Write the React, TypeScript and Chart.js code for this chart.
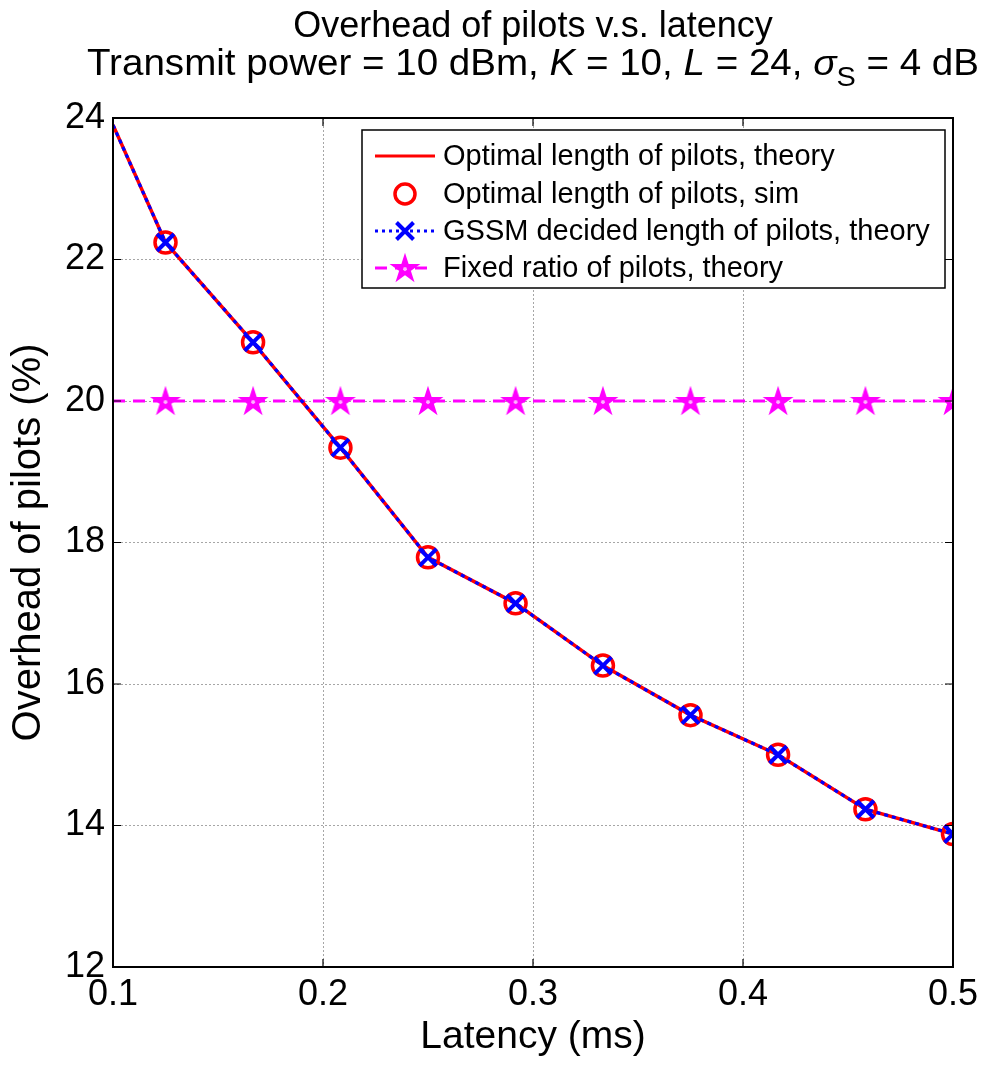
import React, { useEffect, useRef } from 'react';
import { Chart, registerables } from 'chart.js';

Chart.register(...registerables);

// ---------- data ----------
const latency = [0.1, 0.125, 0.1667, 0.2083, 0.25, 0.2917, 0.3333, 0.375, 0.4167, 0.4583, 0.5];
const optimalTheory = [23.9, 22.24, 20.83, 19.34, 17.79, 17.14, 16.26, 15.56, 15.0, 14.23, 13.88];
const optimalSim = [null, 22.24, 20.83, 19.34, 17.79, 17.14, 16.26, 15.56, 15.0, 14.23, 13.88];
const gssmTheory = [23.9, 22.24, 20.83, 19.34, 17.79, 17.14, 16.26, 15.56, 15.0, 14.23, 13.88];
const fixedRatio = [20, 20, 20, 20, 20, 20, 20, 20, 20, 20, 20];
const xTicks = [0.1, 0.2, 0.3, 0.4, 0.5];
const yTicks = [12, 14, 16, 18, 20, 22, 24];
const legendLabels = [
  'Optimal length of pilots, theory',
  'Optimal length of pilots, sim',
  'GSSM decided length of pilots, theory',
  'Fixed ratio of pilots, theory',
];
const titleLine1 = 'Overhead of pilots v.s. latency';
const xTitle = 'Latency (ms)';
const yTitle = 'Overhead of pilots (%)';

const FAM = "'Liberation Sans', Arial, Helvetica, sans-serif";
const RED = '#ff0000';
const BLUE = '#0000ff';
const MAG = '#ff00ff';

function makeStar(R: number, color: string, lw: number) {
  const c = document.createElement('canvas');
  const size = Math.ceil(R * 2 + lw + 4);
  c.width = size;
  c.height = size;
  const g = c.getContext('2d') as CanvasRenderingContext2D;
  const cx = size / 2;
  const cy = size / 2 + 1;
  const r = R * 0.382;
  g.beginPath();
  for (let i = 0; i < 10; i++) {
    const a = -Math.PI / 2 + (i * Math.PI) / 5;
    const rr = i % 2 === 0 ? R : r;
    g.lineTo(cx + rr * Math.cos(a), cy + rr * Math.sin(a));
  }
  g.closePath();
  g.lineJoin = 'miter';
  g.fillStyle = color;
  g.fill();
  g.lineWidth = lw;
  g.strokeStyle = color;
  g.stroke();
  // faint lighter core, as in the reference marker
  g.beginPath();
  for (let i = 0; i < 5; i++) {
    const a = -Math.PI / 2 + Math.PI / 5 + (i * 2 * Math.PI) / 5;
    g.lineTo(cx + r * 0.45 * Math.cos(a), cy + r * 0.45 * Math.sin(a));
  }
  g.closePath();
  g.fillStyle = 'rgba(255,200,255,0.9)';
  g.fill();
  return c;
}

const pts = (ys: (number | null)[]) => latency.map((x, i) => ({ x, y: ys[i] }));

export default function App() {
  const ref = useRef<HTMLCanvasElement>(null);
  useEffect(() => {
    document.body.style.margin = '0';
    const star = makeStar(13, MAG, 2);

    const framePlugin = {
      id: 'frame',
      afterDraw(chart: any) {
        const { ctx, chartArea: a } = chart;
        ctx.save();
        ctx.strokeStyle = '#000';
        ctx.lineWidth = 1.2;
        const xs = chart.scales.x;
        const ys = chart.scales.y;
        const tl = 8;
        ctx.beginPath();
        xTicks.forEach((v) => {
          const px = xs.getPixelForValue(v);
          ctx.moveTo(px, a.bottom);
          ctx.lineTo(px, a.bottom - tl);
          ctx.moveTo(px, a.top);
          ctx.lineTo(px, a.top + tl);
        });
        yTicks.forEach((v) => {
          const py = ys.getPixelForValue(v);
          ctx.moveTo(a.left, py);
          ctx.lineTo(a.left + tl, py);
          ctx.moveTo(a.right, py);
          ctx.lineTo(a.right - tl, py);
        });
        ctx.stroke();
        ctx.lineWidth = 2;
        ctx.strokeRect(a.left, a.top, a.right - a.left, a.bottom - a.top);

        // ---- title ----
        const cx = (a.left + a.right) / 2;
        const ts = 36;
        ctx.fillStyle = '#000';
        ctx.textBaseline = 'alphabetic';
        ctx.textAlign = 'center';
        ctx.font = `${ts}px ${FAM}`;
        ctx.fillText(titleLine1, cx, 37);
        const segs = [
          { t: 'Transmit power = 10 dBm, ', f: `${ts}px ${FAM}`, dy: 0 },
          { t: 'K', f: `italic ${ts}px ${FAM}`, dy: 0 },
          { t: ' = 10, ', f: `${ts}px ${FAM}`, dy: 0 },
          { t: 'L', f: `italic ${ts}px ${FAM}`, dy: 0 },
          { t: ' = 24, ', f: `${ts}px ${FAM}`, dy: 0 },
          { t: 'σ', f: `italic ${ts}px ${FAM}`, dy: 0 },
          { t: 'S', f: `${Math.round(ts * 0.75)}px ${FAM}`, dy: 11 },
          { t: ' = 4 dB', f: `${ts}px ${FAM}`, dy: 0 },
        ];
        ctx.textAlign = 'left';
        let total = 0;
        segs.forEach((s) => {
          ctx.font = s.f;
          total += ctx.measureText(s.t).width;
        });
        const target = 892;
        const sx = target / total;
        ctx.save();
        ctx.translate(cx - target / 2, 75);
        ctx.scale(sx, 1);
        let x = 0;
        segs.forEach((s) => {
          ctx.font = s.f;
          ctx.fillText(s.t, x, s.dy);
          x += ctx.measureText(s.t).width;
        });
        ctx.restore();

        // ---- legend ----
        const L = 362, T = 130, R = 945, B = 288;
        ctx.fillStyle = '#fff';
        ctx.fillRect(L, T, R - L, B - T);
        ctx.lineWidth = 1.5;
        ctx.strokeStyle = '#000';
        ctx.strokeRect(L, T, R - L, B - T);
        const rows = [156, 194, 231, 268];
        const s0 = 375, s1 = 435, sc = 405;
        ctx.setLineDash([]);
        ctx.strokeStyle = RED;
        ctx.lineWidth = 3;
        ctx.beginPath();
        ctx.moveTo(s0, rows[0]);
        ctx.lineTo(s1, rows[0]);
        ctx.stroke();
        ctx.lineWidth = 3.5;
        ctx.beginPath();
        ctx.arc(sc, rows[1], 10, 0, Math.PI * 2);
        ctx.stroke();
        ctx.strokeStyle = BLUE;
        ctx.lineWidth = 3;
        ctx.setLineDash([3, 4]);
        ctx.beginPath();
        ctx.moveTo(s0, rows[2]);
        ctx.lineTo(s1, rows[2]);
        ctx.stroke();
        ctx.setLineDash([]);
        ctx.lineWidth = 4;
        ctx.beginPath();
        const d = 8.5;
        ctx.moveTo(sc - d, rows[2] - d);
        ctx.lineTo(sc + d, rows[2] + d);
        ctx.moveTo(sc - d, rows[2] + d);
        ctx.lineTo(sc + d, rows[2] - d);
        ctx.stroke();
        ctx.strokeStyle = MAG;
        ctx.lineWidth = 3;
        ctx.setLineDash([12, 8]);
        ctx.beginPath();
        ctx.moveTo(s0, rows[3]);
        ctx.lineTo(s1, rows[3]);
        ctx.stroke();
        ctx.setLineDash([]);
        ctx.drawImage(star, sc - star.width / 2, rows[3] - star.height / 2);
        ctx.fillStyle = '#000';
        ctx.font = `29px ${FAM}`;
        ctx.textBaseline = 'middle';
        legendLabels.forEach((t, i) => ctx.fillText(t, 443, rows[i] + 1));
        ctx.restore();
      },
    };

    const hideFirst = (r: number) => (c: any) => (c.dataIndex === 0 ? 0 : r);

    const chart = new Chart(ref.current as HTMLCanvasElement, {
      type: 'line',
      data: {
        datasets: [
          {
            label: legendLabels[2],
            data: pts(gssmTheory),
            borderColor: BLUE,
            borderWidth: 3.2,
            borderDash: [4, 4],
            pointStyle: 'crossRot',
            pointRadius: hideFirst(12),
            pointBorderWidth: 4,
            pointBorderColor: BLUE,
            pointBackgroundColor: BLUE,
            fill: false,
            tension: 0,
            order: 0,
          },
          {
            label: legendLabels[1],
            data: pts(optimalSim),
            showLine: false,
            borderColor: RED,
            pointStyle: 'circle',
            pointRadius: 10.5,
            pointBorderWidth: 3.5,
            pointBorderColor: RED,
            pointBackgroundColor: 'rgba(0,0,0,0)',
            order: 1,
          },
          {
            label: legendLabels[0],
            data: pts(optimalTheory),
            borderColor: RED,
            borderWidth: 3.5,
            pointRadius: 0,
            fill: false,
            tension: 0,
            order: 2,
          },
          {
            label: legendLabels[3],
            data: pts(fixedRatio),
            borderColor: MAG,
            borderWidth: 3,
            borderDash: [12, 8],
            pointStyle: star as any,
            pointRadius: hideFirst(14),
            fill: false,
            tension: 0,
            order: 3,
          },
        ],
      },
      options: {
        animation: false,
        responsive: false,
        events: [],
        layout: { padding: { top: 118, right: 36, left: 0, bottom: 0 } },
        plugins: {
          legend: { display: false },
          title: { display: false },
          tooltip: { enabled: false },
        },
        scales: {
          x: {
            type: 'linear',
            min: 0.1,
            max: 0.5,
            afterBuildTicks: (s: any) => {
              s.ticks = xTicks.map((v) => ({ value: v }));
            },
            afterFit: (s: any) => {
              s.height = 99;
            },
            ticks: {
              autoSkip: false,
              maxRotation: 0,
              padding: 6,
              color: '#000',
              font: { size: 36, family: FAM },
              callback: (v: any) => Number(v).toFixed(1),
            },
            grid: { color: 'rgba(0,0,0,0.35)', lineWidth: 1, drawTicks: false },
            border: { display: false, dash: [2, 2] },
            title: {
              display: true,
              text: xTitle,
              color: '#000',
              font: { size: 39, family: FAM },
              padding: { top: 0, bottom: 5 },
            },
          },
          y: {
            type: 'linear',
            min: 12,
            max: 24,
            afterBuildTicks: (s: any) => {
              s.ticks = yTicks.map((v) => ({ value: v }));
            },
            afterFit: (s: any) => {
              s.width = 113;
            },
            ticks: {
              autoSkip: false,
              padding: 8,
              color: '#000',
              font: { size: 36, family: FAM },
            },
            grid: { color: 'rgba(0,0,0,0.35)', lineWidth: 1, drawTicks: false },
            border: { display: false, dash: [2, 2] },
            title: {
              display: true,
              text: yTitle,
              color: '#000',
              font: { size: 40, family: FAM },
              padding: { top: 5, bottom: 0 },
            },
          },
        },
      },
      plugins: [framePlugin],
    } as any);
    return () => chart.destroy();
  }, []);
  return (
    <div style={{ width: 989, height: 1066 }}>
      <canvas ref={ref} width={989} height={1066} style={{ display: 'block', width: 989, height: 1066 }} />
    </div>
  );
}
